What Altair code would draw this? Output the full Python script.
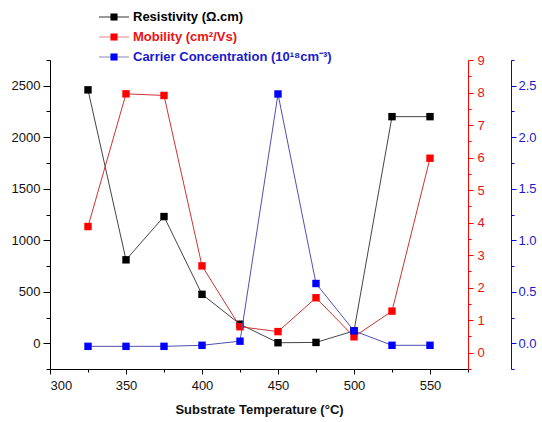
import altair as alt
import pandas as pd

# ---- data ----
temps = [325, 350, 375, 400, 425, 450, 475, 500, 525, 550]
resistivity = [2460, 810, 1230, 475, 185, 5, 8, 120, 2200, 2200]
mobility = [3.88, 7.96, 7.91, 2.67, 0.80, 0.65, 1.69, 0.49, 1.28, 5.98]
carrier = [-0.03, -0.03, -0.03, -0.02, 0.02, 2.42, 0.58, 0.12, -0.02, -0.02]

legend_labels = ["Resistivity (Ω.cm)", "Mobility (cm²/Vs)", "Carrier Concentration (10¹⁸cm⁻³)"]
x_title = "Substrate Temperature (°C)"

df = pd.DataFrame({"T": temps, "R": resistivity, "M": mobility, "C": carrier})

FONT = "Liberation Sans"
BLACK, RED, BLUE = "#000000", "#ff0000", "#0000ff"

x_enc = alt.X(
    "T:Q",
    scale=alt.Scale(domain=[300, 575], nice=False, zero=False),
    axis=alt.Axis(
        title=x_title,
        values=list(range(300, 576, 25)),
        labelExpr="datum.value % 50 == 0 && datum.value <= 550 ? datum.label : ''",
        tickSize={"condition": {"test": "datum.value % 50 == 0", "value": 5}, "value": 3},
        format="d",
        grid=False,
        domainColor=BLACK, tickColor=BLACK, labelColor="#111111",
        labelFont=FONT, labelFontSize=13, labelPadding=5,
        titleFont=FONT, titleFontSize=13, titleFontWeight="bold", titleColor="#111111",
        titlePadding=11,
    ),
)

left = alt.Chart(df).mark_line(
    color="#444444", strokeWidth=1,
    point=alt.OverlayMarkDef(shape="square", size=55, filled=True, color=BLACK, opacity=1),
).encode(
    x=x_enc,
    y=alt.Y(
        "R:Q",
        scale=alt.Scale(domain=[-250, 2750], nice=False, zero=False),
        axis=alt.Axis(
            title=None, orient="left",
            values=list(range(-250, 2751, 250)),
            labelExpr="datum.value % 500 == 0 && datum.value >= 0 ? datum.label : ''",
            tickSize={"condition": {"test": "datum.value % 500 == 0", "value": 7}, "value": 4},
            format="d", grid=False,
            domainColor=BLACK, tickColor=BLACK, labelColor="#111111",
            labelFont=FONT, labelFontSize=13, labelPadding=3,
        ),
    ),
)

red_vals = [v / 2 for v in range(-1, 19)]
red_major = "abs(datum.value - round(datum.value)) < 0.001"
mid = alt.Chart(df).mark_line(
    color="#cc3333", strokeWidth=1,
    point=alt.OverlayMarkDef(shape="square", size=55, filled=True, color=RED, opacity=1),
).encode(
    x=x_enc,
    y=alt.Y(
        "M:Q",
        scale=alt.Scale(domain=[-0.5, 9], nice=False, zero=False),
        axis=alt.Axis(
            title=None, orient="right",
            values=red_vals,
            labelExpr=f"{red_major} && datum.value >= 0 ? format(datum.value, 'd') : ''",
            tickSize={"condition": {"test": red_major, "value": 5}, "value": 3},
            grid=False,
            domainColor=RED, tickColor=RED, labelColor="#ee1111",
            labelFont=FONT, labelFontSize=13, labelPadding=4,
        ),
    ),
)

blue_vals = [v / 4 for v in range(-1, 12)]
blue_major = "abs(datum.value * 2 - round(datum.value * 2)) < 0.001"
right = alt.Chart(df).mark_line(
    color="#5050b0", strokeWidth=1,
    point=alt.OverlayMarkDef(shape="square", size=55, filled=True, color=BLUE, opacity=1),
).encode(
    x=x_enc,
    y=alt.Y(
        "C:Q",
        scale=alt.Scale(domain=[-0.25, 2.75], nice=False, zero=False),
        axis=alt.Axis(
            title=None, orient="right", offset=43,
            values=blue_vals,
            labelExpr=f"{blue_major} && datum.value >= 0 ? format(datum.value, '.1f') : ''",
            tickSize={"condition": {"test": blue_major, "value": 5}, "value": 3},
            grid=False,
            domainColor=BLUE, tickColor=BLUE, labelColor="#1a1acc",
            labelFont=FONT, labelFontSize=13, labelPadding=2,
        ),
    ),
)

# ---- hand-made legend (top, outside plot area) ----
dummy = pd.DataFrame({"a": [0]})
legend_line_colors = ["#555555", "#e49a9a", "#9a9acc"]
legend_marker_colors = [BLACK, RED, BLUE]
legend_text_colors = ["#000000", "#ee1111", "#1a1acc"]
legend_rows_y = [-43, -23, -3]

legend_layers = []
for lab, lc, mc, tc, yy in zip(legend_labels, legend_line_colors, legend_marker_colors,
                               legend_text_colors, legend_rows_y):
    legend_layers.append(
        alt.Chart(dummy).mark_rule(color=lc, strokeWidth=1.2).encode(
            x=alt.value(49), x2=alt.value(79), y=alt.value(yy)
        )
    )
    legend_layers.append(
        alt.Chart(dummy).mark_point(shape="square", size=50, filled=True, color=mc, opacity=1).encode(
            x=alt.value(64), y=alt.value(yy)
        )
    )
    legend_layers.append(
        alt.Chart(dummy).mark_text(
            align="left", baseline="middle", font=FONT, fontSize=13, fontWeight="bold", color=tc
        ).encode(x=alt.value(83), y=alt.value(yy), text=alt.value(lab))
    )

chart = alt.layer(left, mid, right, *legend_layers).resolve_scale(
    y="independent"
).properties(
    width=418,
    height=309,
    autosize=alt.AutoSizeParams(type="none"),
    padding={"left": 50, "top": 60, "right": 74, "bottom": 53},
    background="white",
).configure_view(stroke=None)

chart.save("out.html", embed_options={"renderer": "svg", "actions": False})
